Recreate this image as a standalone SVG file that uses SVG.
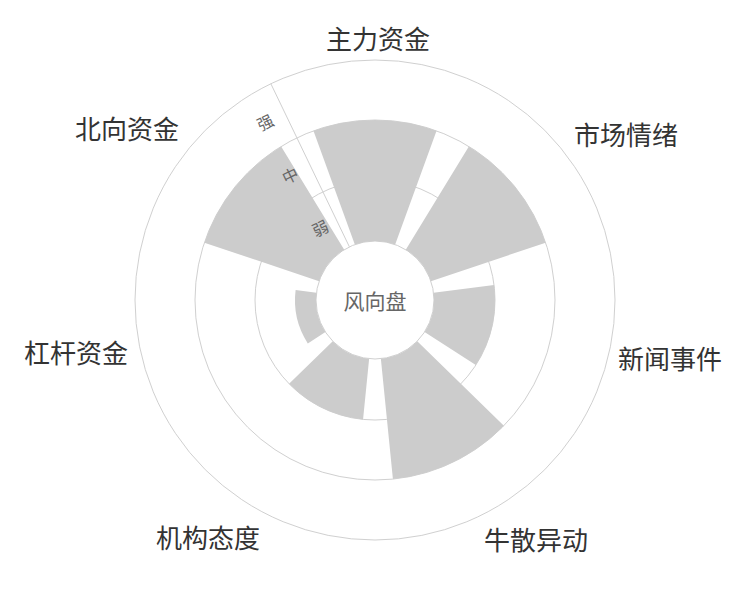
<svg xmlns="http://www.w3.org/2000/svg" width="750" height="600" viewBox="0 0 750 600">
<style>
.grid{fill:none;stroke:#d0d0d0;stroke-width:1}
.bar{fill:#cccccc}
.lbl{font-family:"Noto Sans CJK SC","Liberation Sans",sans-serif;font-size:26px;fill:#333;text-anchor:middle}
.ax{font-family:"Noto Sans CJK SC","Liberation Sans",sans-serif;font-size:16px;fill:#666;text-anchor:middle}
</style>
<rect width="750" height="600" fill="#fff"/>
<g id="grid">
<circle class="grid" cx="375" cy="300" r="240"/>
<circle class="grid" cx="375" cy="300" r="180"/>
<circle class="grid" cx="375" cy="300" r="120"/>
<circle class="grid" cx="375" cy="300" r="59"/>
</g>
<g id="bars">
<path id="b0" class="bar" d="M313.44,130.85 A180,180 0 0 1 436.56,130.85 L395.18,244.56 A59,59 0 0 0 354.82,244.56 Z"/>
<path id="b1" class="bar" d="M468.85,146.41 A180,180 0 0 1 545.62,242.67 L430.93,281.21 A59,59 0 0 0 405.76,249.66 Z"/>
<path id="b2" class="bar" d="M494.06,285.08 A120,120 0 0 1 475.8,365.11 L424.56,332.01 A59,59 0 0 0 433.54,292.67 Z"/>
<path id="b3" class="bar" d="M503.88,425.66 A180,180 0 0 1 392.91,479.1 L380.87,358.71 A59,59 0 0 0 417.24,341.19 Z"/>
<path id="b4" class="bar" d="M363.06,419.4 A120,120 0 0 1 289.08,383.77 L332.76,341.19 A59,59 0 0 0 369.13,358.71 Z"/>
<path id="b5" class="bar" d="M307.8,343.41 A80,80 0 0 1 295.62,290.06 L316.46,292.67 A59,59 0 0 0 325.44,332.01 Z"/>
<path id="b6" class="bar" d="M204.38,242.67 A180,180 0 0 1 281.15,146.41 L344.24,249.66 A59,59 0 0 0 319.07,281.21 Z"/>
</g>
<g id="axis">
<line class="grid" x1="349.4" y1="246.84" x2="270.86" y2="83.76"/>
<text class="ax" transform="translate(268,128) rotate(-26)">强</text>
<text class="ax" transform="translate(293,181) rotate(-26)">中</text>
<text class="ax" transform="translate(323,234) rotate(-26)">弱</text>
</g>
<g id="labels">
<text class="lbl" x="378" y="49">主力资金</text>
<text class="lbl" x="626" y="145">市场情绪</text>
<text class="lbl" x="670" y="369">新闻事件</text>
<text class="lbl" x="536" y="550">牛散异动</text>
<text class="lbl" x="208" y="548">机构态度</text>
<text class="lbl" x="76" y="363">杠杆资金</text>
<text class="lbl" x="127" y="139">北向资金</text>
</g>
<text id="center" x="375" y="309" font-family="Noto Sans CJK SC,Liberation Sans,sans-serif" font-size="21" fill="#666" text-anchor="middle">风向盘</text>
</svg>
